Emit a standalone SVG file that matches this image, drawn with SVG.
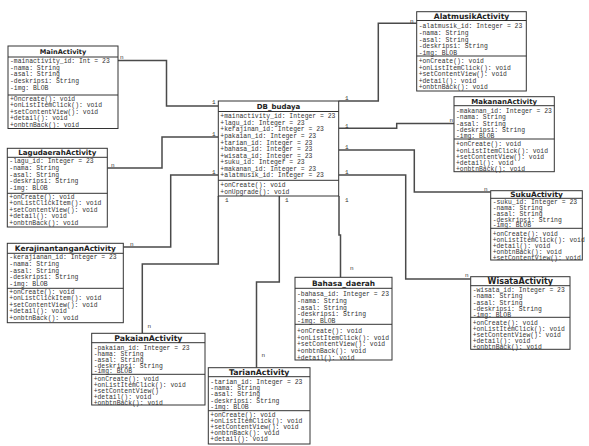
<svg xmlns="http://www.w3.org/2000/svg" width="589" height="446" viewBox="0 0 589 446">
<style>
.box{fill:#fff;stroke:#333;stroke-width:1}
.sep{stroke:#333;stroke-width:1}
.ttl{font-family:"DejaVu Sans",Verdana,sans-serif;font-weight:bold;fill:#222;text-anchor:middle}
.t{font-family:"Liberation Mono","Courier New",monospace;font-size:6.4px;fill:#333}
.lbl{font-family:"Liberation Mono","Courier New",monospace;font-size:6px;fill:#333}
.con{fill:none;stroke:#4a4a4a;stroke-width:1.5}
</style>
<rect width="589" height="446" fill="#fff"/>

<g id="connectors">
<polyline class="con" points="118,60.5 166.5,60.5 166.5,106 218.3,106"/>
<polyline class="con" points="107.3,168 162,168 162,137 218.3,137"/>
<polyline class="con" points="123.3,247 170.7,247 170.7,175 218.3,175"/>
<polyline class="con" points="218.3,196 218.3,264 142.3,264 142.3,333.3"/>
<polyline class="con" points="279.3,196 279.3,282 256.5,282 256.5,367.7"/>
<polyline class="con" points="339,196 339,235 340.5,235 340.5,277.3"/>
<polyline class="con" points="338.7,101 378.3,101 378.3,23.3 416.7,23.3"/>
<polyline class="con" points="338.7,128.3 396.7,128.3 396.7,123.5 454,123.5"/>
<polyline class="con" points="338.7,150 414.3,150 414.3,192 490.7,192"/>
<polyline class="con" points="338.7,175 405.7,175 405.7,279 470.7,279"/>
<text class="lbl" x="120" y="59">n</text>
<text class="lbl" x="212" y="104">1</text>
<text class="lbl" x="111" y="167">n</text>
<text class="lbl" x="212" y="135.5">1</text>
<text class="lbl" x="130" y="246">n</text>
<text class="lbl" x="212" y="174">1</text>
<text class="lbl" x="225" y="201.5">1</text>
<text class="lbl" x="147.5" y="328">n</text>
<text class="lbl" x="285" y="201.5">1</text>
<text class="lbl" x="261.5" y="357">n</text>
<text class="lbl" x="345" y="201.5">1</text>
<text class="lbl" x="350" y="270">n</text>
<text class="lbl" x="345" y="99.5">1</text>
<text class="lbl" x="410" y="22.5">n</text>
<text class="lbl" x="345" y="127.5">1</text>
<text class="lbl" x="449.5" y="122">n</text>
<text class="lbl" x="345" y="148.5">1</text>
<text class="lbl" x="484" y="191">n</text>
<text class="lbl" x="345" y="174">1</text>
<text class="lbl" x="465" y="277">n</text>
</g>

<g id="MainActivity">
<rect class="box" x="8" y="46" width="110" height="82.5"/>
<line class="sep" x1="8" y1="57" x2="118" y2="57"/>
<line class="sep" x1="8" y1="95" x2="118" y2="95"/>
<text class="ttl" x="63" y="54" font-size="6.6">MainActivity</text>
<text class="t" x="10" y="63">-mainactivity_id: Int = 23</text>
<text class="t" x="10" y="69.7">-nama: String</text>
<text class="t" x="10" y="76.4">-asal: String</text>
<text class="t" x="10" y="83.1">-deskripsi: String</text>
<text class="t" x="10" y="89.8">-img: BLOB</text>
<text class="t" x="10" y="101">+Oncreate(): void</text>
<text class="t" x="10" y="107.4">+onListItemClick(): void</text>
<text class="t" x="10" y="113.8">+setContentView(): void</text>
<text class="t" x="10" y="120.2">+detail(): void</text>
<text class="t" x="10" y="126.6">+onbtnBack(): void</text>
</g>

<g id="LagudaerahActivity">
<rect class="box" x="7.3" y="148.3" width="100" height="78.7"/>
<line class="sep" x1="7.3" y1="157.3" x2="107.3" y2="157.3"/>
<line class="sep" x1="7.3" y1="193.3" x2="107.3" y2="193.3"/>
<text class="ttl" x="57.3" y="155.4" font-size="7.1">LagudaerahActivity</text>
<text class="t" x="9.3" y="163.3">-lagu_id: Integer = 23</text>
<text class="t" x="9.3" y="169.9">-nama: String</text>
<text class="t" x="9.3" y="176.5">-asal: String</text>
<text class="t" x="9.3" y="183.1">-deskripsi: String</text>
<text class="t" x="9.3" y="189.7">-img: BLOB</text>
<text class="t" x="9.3" y="199">+onCreate(): void</text>
<text class="t" x="9.3" y="205.4">+onListClickItem(): void</text>
<text class="t" x="9.3" y="211.8">+setContentView(): void</text>
<text class="t" x="9.3" y="218.2">+detail(): void</text>
<text class="t" x="9.3" y="224.6">+onbtnBack(): void</text>
</g>

<g id="KerajinantanganActivity">
<rect class="box" x="7.3" y="243.3" width="116" height="79.4"/>
<line class="sep" x1="7.3" y1="253.3" x2="123.3" y2="253.3"/>
<line class="sep" x1="7.3" y1="288.3" x2="123.3" y2="288.3"/>
<text class="ttl" x="65.3" y="251" font-size="7.4">KerajinantanganActivity</text>
<text class="t" x="9.3" y="259.3">-kerajianan_id: Integer = 23</text>
<text class="t" x="9.3" y="265.9">-nama: String</text>
<text class="t" x="9.3" y="272.5">-asal: String</text>
<text class="t" x="9.3" y="279.1">-deskripsi: String</text>
<text class="t" x="9.3" y="285.7">-img: BLOB</text>
<text class="t" x="9.3" y="294">+onCreate(): void</text>
<text class="t" x="9.3" y="300.4">+onListClickItem(): void</text>
<text class="t" x="9.3" y="306.8">+setContentView(): void</text>
<text class="t" x="9.3" y="313.2">+detail(): void</text>
<text class="t" x="9.3" y="319.6">+onbtnBack(): void</text>
</g>

<g id="DB_budaya">
<rect class="box" x="218.3" y="101" width="120.4" height="95"/>
<line class="sep" x1="218.3" y1="111.5" x2="338.7" y2="111.5"/>
<line class="sep" x1="218.3" y1="180.3" x2="338.7" y2="180.3"/>
<text class="ttl" x="278.5" y="108.7" font-size="7">DB_budaya</text>
<text class="t" x="220.3" y="118.3">+mainactivity_id: Integer = 23</text>
<text class="t" x="220.3" y="124.9">+lagu_id: Integer = 23</text>
<text class="t" x="220.3" y="131.4">+kerajinan_id: Integer = 23</text>
<text class="t" x="220.3" y="138">+pakaian_id: Integer = 23</text>
<text class="t" x="220.3" y="144.5">+tarian_id: Integer = 23</text>
<text class="t" x="220.3" y="151.1">+bahasa_id: Integer = 23</text>
<text class="t" x="220.3" y="157.6">+wisata_id: Integer = 23</text>
<text class="t" x="220.3" y="164.2">+suku_id: Integer = 23</text>
<text class="t" x="220.3" y="170.7">+makanan_id: Integer = 23</text>
<text class="t" x="220.3" y="177.3">+alatmusik_id: Integer = 23</text>
<text class="t" x="220.3" y="187.3">+onCreate(): void</text>
<text class="t" x="220.3" y="193.9">+onUpgrade(): void</text>
</g>

<g id="AlatmusikActivity">
<rect class="box" x="416.7" y="11.7" width="109.6" height="79.3"/>
<line class="sep" x1="416.7" y1="20.5" x2="526.3" y2="20.5"/>
<line class="sep" x1="416.7" y1="56" x2="526.3" y2="56"/>
<text class="ttl" x="471.5" y="18.9" font-size="7.6">AlatmusikActivity</text>
<text class="t" x="418.7" y="28.3">-alatmusik_id: Integer = 23</text>
<text class="t" x="418.7" y="34.9">-nama: String</text>
<text class="t" x="418.7" y="41.5">-asal: String</text>
<text class="t" x="418.7" y="48.1">-deskripsi: String</text>
<text class="t" x="418.7" y="54.7">-img: BLOB</text>
<text class="t" x="418.7" y="63">+onCreate(): void</text>
<text class="t" x="418.7" y="69.6">+onListItemClick(): void</text>
<text class="t" x="418.7" y="76.2">+setContentView(): void</text>
<text class="t" x="418.7" y="82.8">+detail(): void</text>
<text class="t" x="418.7" y="89.4">+onbtnBack(): void</text>
</g>

<g id="MakananActivity">
<rect class="box" x="454" y="96.7" width="100.3" height="75"/>
<line class="sep" x1="454" y1="105.7" x2="554.3" y2="105.7"/>
<line class="sep" x1="454" y1="139" x2="554.3" y2="139"/>
<text class="ttl" x="504.2" y="103.8" font-size="7">MakananActivity</text>
<text class="t" x="456" y="113">-makanan_id: Integer = 23</text>
<text class="t" x="456" y="119.2">-nama: String</text>
<text class="t" x="456" y="125.5">-asal: String</text>
<text class="t" x="456" y="131.7">-deskripsi: String</text>
<text class="t" x="456" y="138">-img: BLOB</text>
<text class="t" x="456" y="146.3">+onCreate(): void</text>
<text class="t" x="456" y="152.5">+onListItemClick(): void</text>
<text class="t" x="456" y="158.8">+setContentView(): void</text>
<text class="t" x="456" y="165">+detail(): void</text>
<text class="t" x="456" y="171.3">+onbtnBack(): void</text>
</g>

<g id="SukuActivity">
<rect class="box" x="490.7" y="190.7" width="91.6" height="69.3"/>
<line class="sep" x1="490.7" y1="198.3" x2="582.3" y2="198.3"/>
<line class="sep" x1="490.7" y1="228.3" x2="582.3" y2="228.3"/>
<text class="ttl" x="536.5" y="197" font-size="7.4">SukuActivity</text>
<text class="t" x="492.7" y="204">-suku_id: Integer = 23</text>
<text class="t" x="492.7" y="209.9">-nama: String</text>
<text class="t" x="492.7" y="215.7">-asal: String</text>
<text class="t" x="492.7" y="221.6">-deskripsi: String</text>
<text class="t" x="492.7" y="227.4">-img: BLOB</text>
<text class="t" x="492.7" y="235.6">+onCreate(): void</text>
<text class="t" x="492.7" y="241.6">+onListItemClick(): void</text>
<text class="t" x="492.7" y="247.6">+detail(): void</text>
<text class="t" x="492.7" y="253.6">+onbtnBack(): void</text>
<text class="t" x="492.7" y="259.6">+setContentView(): void</text>
</g>

<g id="WisataActivity">
<rect class="box" x="470.7" y="276.7" width="99.3" height="72.6"/>
<line class="sep" x1="470.7" y1="285.7" x2="570" y2="285.7"/>
<line class="sep" x1="470.7" y1="317.3" x2="570" y2="317.3"/>
<text class="ttl" x="520.3" y="284" font-size="8">WisataActivity</text>
<text class="t" x="472.7" y="292.3">-wisata_id: Integer = 23</text>
<text class="t" x="472.7" y="298.4">-nama: String</text>
<text class="t" x="472.7" y="304.5">-asal: String</text>
<text class="t" x="472.7" y="310.6">-deskripsi: String</text>
<text class="t" x="472.7" y="316.7">-img: BLOB</text>
<text class="t" x="472.7" y="324.6">+onCreate(): void</text>
<text class="t" x="472.7" y="330.7">+onListItemClick(): void</text>
<text class="t" x="472.7" y="336.8">+setContentView(): void</text>
<text class="t" x="472.7" y="342.9">+detail(): void</text>
<text class="t" x="472.7" y="349">+onbtnBack(): void</text>
</g>

<g id="Bahasa_daerah">
<rect class="box" x="295" y="277.3" width="97" height="82.7"/>
<line class="sep" x1="295" y1="288.3" x2="392" y2="288.3"/>
<line class="sep" x1="295" y1="324.3" x2="392" y2="324.3"/>
<text class="ttl" x="343.5" y="285.5" font-size="7.4">Bahasa_daerah</text>
<text class="t" x="297" y="296.3">-bahasa_id: Integer = 23</text>
<text class="t" x="297" y="303">-nama: String</text>
<text class="t" x="297" y="309.7">-asal: String</text>
<text class="t" x="297" y="316.4">-deskripsi: String</text>
<text class="t" x="297" y="323">-img: BLOB</text>
<text class="t" x="297" y="333">+onCreate(): void</text>
<text class="t" x="297" y="339.6">+onListItemClick(): void</text>
<text class="t" x="297" y="346.3">+setContentView(): void</text>
<text class="t" x="297" y="352.9">+onbtnBack(): void</text>
<text class="t" x="297" y="359.6">+detail(): void</text>
</g>

<g id="PakaianActivity">
<rect class="box" x="91.7" y="333.3" width="113.3" height="71.7"/>
<line class="sep" x1="91.7" y1="342.7" x2="205" y2="342.7"/>
<line class="sep" x1="91.7" y1="374.3" x2="205" y2="374.3"/>
<text class="ttl" x="148.3" y="340.8" font-size="7.8">PakaianActivity</text>
<text class="t" x="93.7" y="350">-pakaian_id: Integer = 23</text>
<text class="t" x="93.7" y="355.9">-nama: String</text>
<text class="t" x="93.7" y="361.7">-asal: String</text>
<text class="t" x="93.7" y="367.6">-deskripsi: String</text>
<text class="t" x="93.7" y="373.4">-img: BLOB</text>
<text class="t" x="93.7" y="381.3">+onCreate(): void</text>
<text class="t" x="93.7" y="387.2">+onListItemClick(): void</text>
<text class="t" x="93.7" y="393">+setContentView()</text>
<text class="t" x="93.7" y="398.9">+detail(): void</text>
<text class="t" x="93.7" y="404.7">+onbtnBack(): void</text>
</g>

<g id="TarianActivity">
<rect class="box" x="208.3" y="367.7" width="101.7" height="76.3"/>
<line class="sep" x1="208.3" y1="376.7" x2="310" y2="376.7"/>
<line class="sep" x1="208.3" y1="410.7" x2="310" y2="410.7"/>
<text class="ttl" x="259.2" y="375" font-size="7.8">TarianActivity</text>
<text class="t" x="210.3" y="384">-tarian_id: Integer = 23</text>
<text class="t" x="210.3" y="390.2">-nama: String</text>
<text class="t" x="210.3" y="396.4">-asal: String</text>
<text class="t" x="210.3" y="402.6">-deskripsi: String</text>
<text class="t" x="210.3" y="408.8">-img: BLOB</text>
<text class="t" x="210.3" y="417.3">+onCreate(): void</text>
<text class="t" x="210.3" y="423.3">+onListItemClick(): void</text>
<text class="t" x="210.3" y="429.3">+setContentView(): void</text>
<text class="t" x="210.3" y="435.3">+onbtnBack(): void</text>
<text class="t" x="210.3" y="441.3">+detail(): void</text>
</g>
</svg>
